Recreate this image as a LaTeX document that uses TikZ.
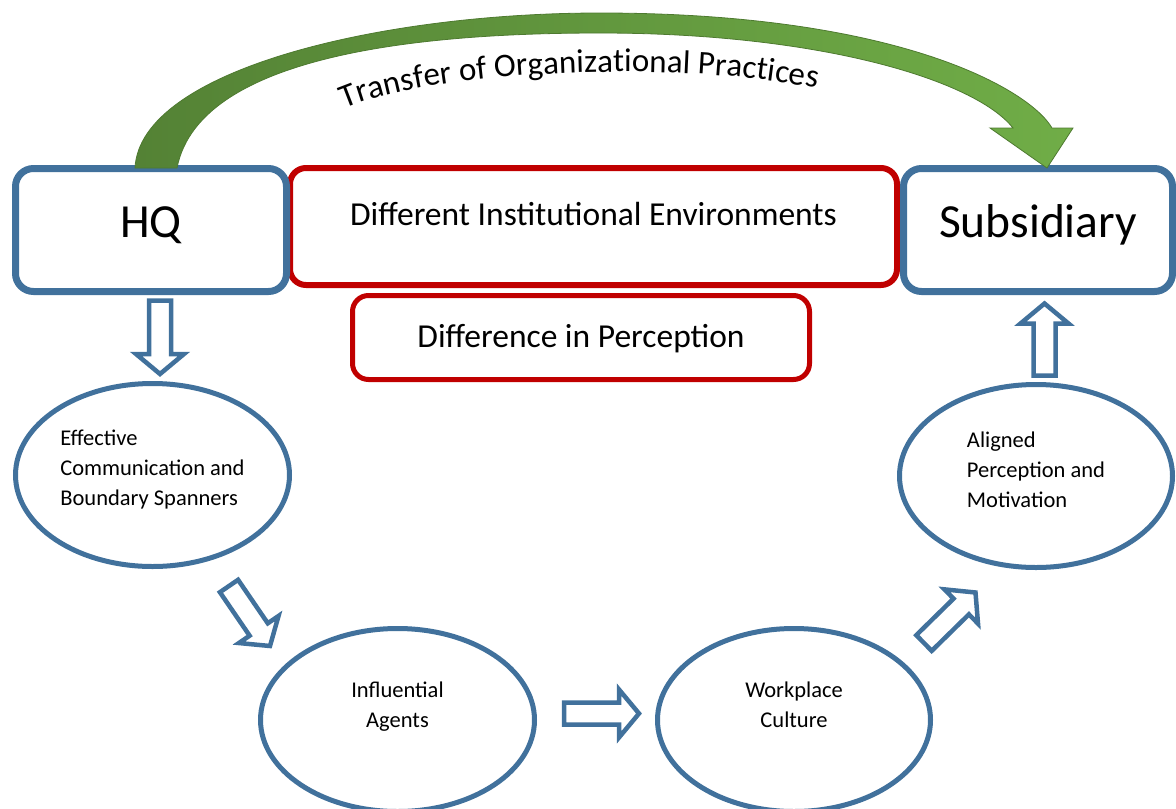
\documentclass[tikz,border=0pt]{standalone}
\usepackage{fontspec}
\setmainfont{Carlito}
\usepackage{xcolor}
\usepackage{tikz}
\usetikzlibrary{positioning,calc,shapes.geometric,decorations.text}

\definecolor{boxblue}{RGB}{65,113,156}
\definecolor{boxred}{RGB}{192,0,0}
\definecolor{darkgreen}{RGB}{84,130,53}
\definecolor{lightgreen}{RGB}{112,173,71}
\definecolor{greenline}{RGB}{78,122,48}

\begin{document}
\begin{tikzpicture}[
    x=1pt, y=-1pt,
    bluebox/.style={
        rectangle,
        rounded corners=18pt,
        draw=boxblue,
        line width=7pt,
        fill=white,
        inner sep=0pt,
        minimum height=123pt,
        text height=30pt,
        text depth=16pt,
        font=\fontsize{47.5}{47.5}\selectfont
    },
    redbox/.style={
        rectangle,
        rounded corners=16pt,
        draw=boxred,
        line width=6pt,
        fill=white,
        inner sep=0pt,
        font=\fontsize{33.5}{33.5}\selectfont
    },
    bubble/.style={
        ellipse,
        draw=boxblue,
        line width=5pt,
        fill=white,
        inner sep=0pt,
        align=left,
        minimum width=274pt,
        minimum height=183pt,
        text depth=5pt,
        font=\fontsize{22.5}{30}\selectfont
    },
    hollow/.style={
        draw=boxblue,
        line width=4.5pt,
        line join=miter,
        fill=white,
        to path={
            ($(\tikztostart)!11pt!90:(\tikztotarget)$)
            -- ($(\tikztotarget)!20pt!(\tikztostart)!11pt!-90:(\tikztostart)$)
            -- ($(\tikztotarget)!20pt!(\tikztostart)!24pt!-90:(\tikztostart)$)
            -- (\tikztotarget)
            -- ($(\tikztotarget)!20pt!(\tikztostart)!24pt!90:(\tikztostart)$)
            -- ($(\tikztotarget)!20pt!(\tikztostart)!11pt!90:(\tikztostart)$)
            -- ($(\tikztostart)!11pt!-90:(\tikztotarget)$)
            -- cycle
        }
    }
]
\useasboundingbox (0,0) rectangle (1176,809);

% Top Row: HQ, Environments, Subsidiary
\node[redbox, minimum width=607pt, minimum height=117pt, text height=20pt, text depth=23pt] (env) at (593.5,226.5) {Different Institutional Environments};
\node[redbox, line width=5pt, minimum width=457pt, minimum height=84pt, text height=21pt, text depth=2pt] (percep) at (581,337.5) {Difference in Perception};
\node[bluebox, minimum width=271pt] (hq) at (151,230) {HQ};
\node[bluebox, minimum width=269pt] (sub) at (1038,230) {Subsidiary};

% Cycle of ellipses
\node[bubble, text height=65pt] (eff) at (152.5,475) {Effective\\Communication and\\Boundary Spanners};
\node[bubble, minimum width=273pt, text height=67pt] (aligned) at (1036,476) {Aligned\\Perception and\\Motivation};
\node[bubble, align=center, text height=19pt] (infl) at (397.5,720) {Influential\\Agents};
\node[bubble, align=center, minimum width=273pt, text height=19pt] (work) at (794,720) {Workplace\\Culture};

% Arrow ends
\coordinate (hq-out) at (160,300.5);
\coordinate (eff-in) at (160,374);
\coordinate (eff-out) at (229,586);
\coordinate (infl-in) at (270,646);
\coordinate (infl-out) at (564,713.5);
\coordinate (work-in) at (639,713.5);
\coordinate (work-out) at (924,643);
\coordinate (aligned-in) at (975.5,592.5);
\coordinate (aligned-out) at (1044.5,375.5);
\coordinate (sub-in) at (1044.5,303.5);

% Connections
\draw[hollow] (hq-out) to (eff-in);
\draw[hollow] (eff-out) to (infl-in);
\draw[hollow] (infl-out) to (work-in);
\draw[hollow] (work-out) to (aligned-in);
\draw[hollow] (aligned-out) to (sub-in);

% Transfer arrow from HQ to Subsidiary
\draw[left color=darkgreen, right color=lightgreen, draw=greenline, line width=0.8pt]
    (135,168) .. controls (140,70) and (380,13) .. (600,13)
    .. controls (900,13) and (1030,90) .. (1052,128)
    -- (1073,128) -- (1047,168) -- (990,128) -- (1013,128)
    .. controls (975,80) and (820,33) .. (600,33)
    .. controls (440,33) and (200,50) .. (177,168) -- cycle;
\path[decorate, decoration={text along path, text align=center,
    text={|\fontsize{33}{33}\selectfont|Transfer of Organizational Practices}}]
    (330,116) .. controls (410,68) and (700,58) .. (832,92);

\end{tikzpicture}
\end{document}
